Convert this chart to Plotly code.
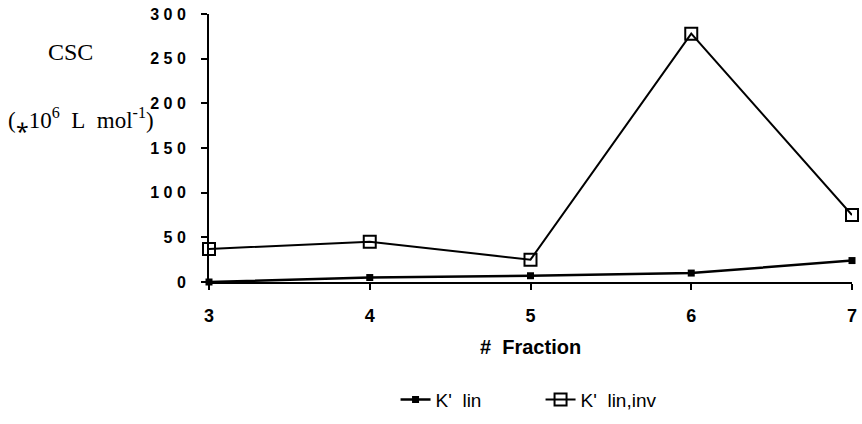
import plotly.graph_objects as go

fractions = [3, 4, 5, 6, 7]
k_lin = [0, 5, 7, 10, 24]
k_lin_inv = [37, 45, 25, 278, 75]
y_ticks = [0, 50, 100, 150, 200, 250, 300]

W, H = 862, 424
L, R, T, B = 209, 5, 14, 132
PW, PH = W - L - R, H - T - B


def px(x):
    return (x - L) / PW


def py(y):
    return (H - B - y) / PH


SANS = "Liberation Sans, Arial, sans-serif"
SERIF = "Liberation Serif, Times New Roman, serif"

fig = go.Figure()
fig.add_trace(go.Scatter(
    x=fractions, y=k_lin, name="K'  lin", mode="lines+markers",
    line=dict(color="black", width=2.5),
    marker=dict(symbol="square", size=7, color="black"),
    cliponaxis=False,
))
fig.add_trace(go.Scatter(
    x=fractions, y=k_lin_inv, name="K'  lin,inv", mode="lines+markers",
    line=dict(color="black", width=2),
    marker=dict(symbol="square-open", size=12, color="black", line=dict(width=2)),
    cliponaxis=False,
))

fig.update_layout(
    width=W, height=H,
    margin=dict(l=L, r=R, t=T, b=B),
    paper_bgcolor="white", plot_bgcolor="white",
    showlegend=True,
    legend=dict(
        orientation="h", x=px(397), y=py(414),
        xanchor="left", yanchor="middle",
        font=dict(family=SANS, size=19, color="black"),
        itemwidth=30, entrywidth=100, entrywidthmode="pixels",
        bgcolor="rgba(0,0,0,0)",
    ),
    xaxis=dict(
        range=[3, 7], tickvals=fractions, ticktext=[f"<b>{v}</b>" for v in fractions],
        showline=True, linecolor="black", linewidth=2,
        ticks="outside", ticklen=6, tickwidth=2, tickcolor="black",
        ticklabelstandoff=10, ticklabeloverflow="allow",
        showgrid=False, zeroline=False,
        tickfont=dict(family=SANS, size=18, color="black"),
    ),
    xaxis2=dict(
        range=[3, 7], overlaying="x", side="bottom", tickvals=[7],
        ticks="inside", ticklen=6, tickwidth=2, tickcolor="black",
        showticklabels=False, showline=False, showgrid=False, zeroline=False,
    ),
    yaxis=dict(
        range=[0, 300], tickvals=y_ticks,
        ticktext=["<b>" + " ".join(str(v)) + "</b>" for v in y_ticks],
        showline=True, linecolor="black", linewidth=2,
        ticks="outside", ticklen=6, tickwidth=2, tickcolor="black",
        ticklabelstandoff=12, ticklabeloverflow="allow",
        showgrid=False, zeroline=False,
        tickfont=dict(family=SANS, size=16, color="black"),
    ),
    yaxis2=dict(
        range=[0, 300], overlaying="y", side="left", tickvals=y_ticks,
        ticks="inside", ticklen=6, tickwidth=2, tickcolor="black",
        showticklabels=False, showline=False, showgrid=False, zeroline=False,
    ),
)

fig.add_annotation(
    text="<b>#  Fraction</b>", xref="paper", yref="paper",
    x=px(533), y=py(359), xanchor="center", yanchor="middle",
    showarrow=False, font=dict(family=SANS, size=20, color="black"),
)
fig.add_annotation(
    text="CSC", xref="paper", yref="paper",
    x=px(45), y=py(53), xanchor="left", yanchor="middle",
    showarrow=False, font=dict(family=SERIF, size=24, color="black"),
)
fig.add_annotation(
    text="(\u204e10<sup>6</sup>\u00a0 L\u00a0 mol<sup>-1</sup>)", xref="paper", yref="paper",
    x=px(4), y=py(122), xanchor="left", yanchor="middle",
    showarrow=False, font=dict(family=SERIF, size=23, color="black"),
)

fig.write_html("out.html")
